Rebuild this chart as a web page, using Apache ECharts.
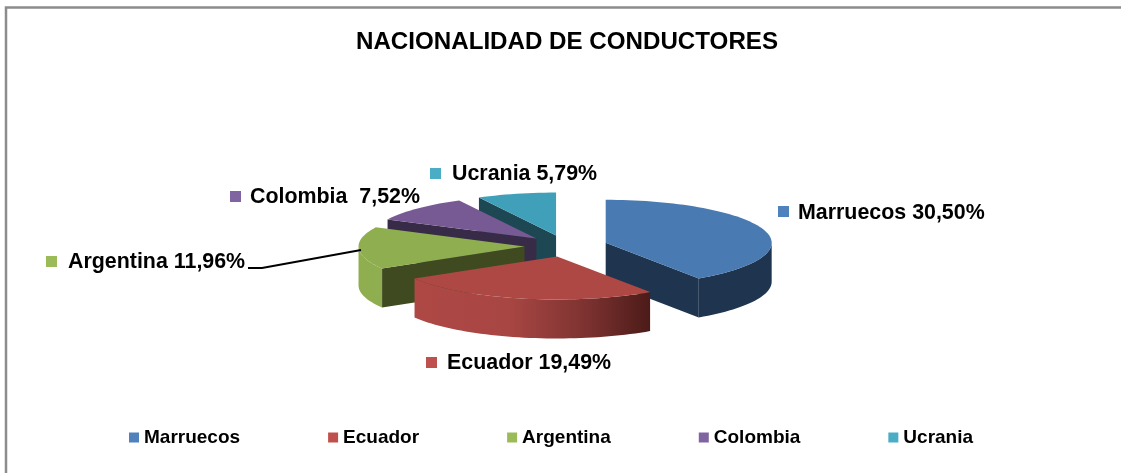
<!DOCTYPE html>
<html><head><meta charset="utf-8">
<style>html,body{margin:0;padding:0;background:#fff}#c{width:1121px;height:473px}</style>
<script src="https://cdn.jsdelivr.net/npm/echarts@6/dist/echarts.min.js"></script>
</head><body><div id="c"></div>
<script>
// data
const categories = ['Marruecos','Ecuador','Argentina','Colombia','Ucrania'];
const shares = [30.50,19.49,11.96,7.52,5.79];
const sliceLabels = ['Marruecos 30,50%','Ecuador 19,49%','Argentina 11,96%','Colombia  7,52%','Ucrania 5,79%'];
// colours: legend/top/wall/rim
const legendColors = ['#4f81bd','#c0504d','#9bbb59','#8064a2','#4bacc6'];
const topColors = ['#4a7ab2','#ae4845','#8fae50','#775a94','#41a0b9'];
const wallColors = ['#1e344f','#4e1b18','#404a20','#382b48','#1d4753'];
const rimColors = ['#1e344f','#ad4845','#8eae50','#775a94','#41a0b9'];
// layout
const CX=566, CY=246, RX=166, RY=43, DEPTH=39, EXPLODE=0.25;
const paintOrder = [6,7,5,4,3]; // series z per category: back slices first
const labelPos = [[778,206,798,213],[426,357,447,363],[46,256,68,262],[230,191,250,197],[430,168,452,174]];

const total = shares.reduce((a,b)=>a+b,0);
const rad = d=>d*Math.PI/180;
const onEllipse = (ax,ay,d)=>[ax+RX*Math.sin(rad(d)), ay-RY*Math.cos(rad(d))];
function arc(ax,ay,a,b,dy){
  const pts=[], n=Math.max(2,Math.ceil(Math.abs(b-a)/2));
  for(let i=0;i<=n;i++){const p=onEllipse(ax,ay,a+(b-a)*i/n);pts.push([p[0],p[1]+(dy||0)]);}
  return pts;
}
function slice(i,value,params){
  const before = shares.slice(0,i).reduce((a,b)=>a+b,0);
  const a = before/total*360, b = a+value/total*360, mid=(a+b)/2;
  const off = onEllipse(0,0,mid);
  const ax = CX+EXPLODE*off[0], ay = CY+EXPLODE*off[1];
  const kids=[];
  const wall=(d)=>{
    const p=onEllipse(ax,ay,d);
    kids.push({type:'polygon',silent:true,shape:{points:[[ax,ay],p,[p[0],p[1]+DEPTH],[ax,ay+DEPTH]]},style:{fill:wallColors[i]}});
  };
  if(Math.sin(rad(a))<-1e-6) wall(a);
  if(Math.sin(rad(b))>1e-6) wall(b);
  const ra=Math.max(a,90), rb=Math.min(b,270);
  if(rb>ra){
    const pts=arc(ax,ay,ra,rb,0).concat(arc(ax,ay,rb,ra,DEPTH));
    let fill=rimColors[i];
    if(i===1) fill={type:'linear',x:0,y:0,x2:1,y2:0,colorStops:[{offset:0,color:'#ad4845'},{offset:.4,color:'#a84643'},{offset:.72,color:'#7e3331'},{offset:1,color:'#4c1b18'}]};
    kids.push({type:'polygon',silent:true,shape:{points:pts},style:{fill}});
  }
  kids.push({type:'polygon',silent:true,shape:{points:[[ax,ay]].concat(arc(ax,ay,a,b,0))},style:{fill:topColors[i]}});
  return {type:'group',children:kids};
}
const series = categories.map((name,i)=>({
  name,type:'custom',coordinateSystem:'none',z:paintOrder[i],silent:true,
  itemStyle:{color:legendColors[i]},
  renderItem:(params,api)=>slice(i,api.value(0),params),
  data:[[shares[i]]]
}));
const labelGraphics = [];
categories.forEach((n,i)=>{
  const l=labelPos[i];
  labelGraphics.push({type:'rect',silent:true,shape:{x:l[0],y:l[1],width:11,height:11},style:{fill:legendColors[i]},z:20});
  labelGraphics.push({type:'text',silent:true,x:l[2],y:l[3],style:{text:sliceLabels[i],font:'bold 21.4px "Liberation Sans",Arial,sans-serif',fill:'#000',textVerticalAlign:'middle',textBaseline:'middle'},z:20});
});
labelGraphics.push({type:'polyline',silent:true,shape:{points:[[248,268],[262,268],[361,250]]},style:{stroke:'#000',lineWidth:2,fill:null},z:20});
labelGraphics.push({type:'polyline',silent:true,shape:{points:[[6,473],[6,7.5],[1121,7.5]]},style:{stroke:'#8c8c8c',lineWidth:2.5,fill:null},z:1});
const chart = echarts.init(document.getElementById('c'),null,{width:1121,height:473});
chart.setOption({
  animation:false,backgroundColor:'#fff',
  title:{text:'NACIONALIDAD DE CONDUCTORES',left:351,top:25,textStyle:{fontFamily:'"Liberation Sans",Arial,sans-serif',fontWeight:'bold',fontSize:24.15,color:'#000'}},
  legend:{data:categories,left:124,top:423,icon:'rect',itemWidth:10,itemHeight:10,itemGap:88,selectedMode:false,
    textStyle:{fontFamily:'"Liberation Sans",Arial,sans-serif',fontWeight:'bold',fontSize:19,color:'#000'}},
  graphic:{elements:labelGraphics},
  series
});
</script></body></html>
